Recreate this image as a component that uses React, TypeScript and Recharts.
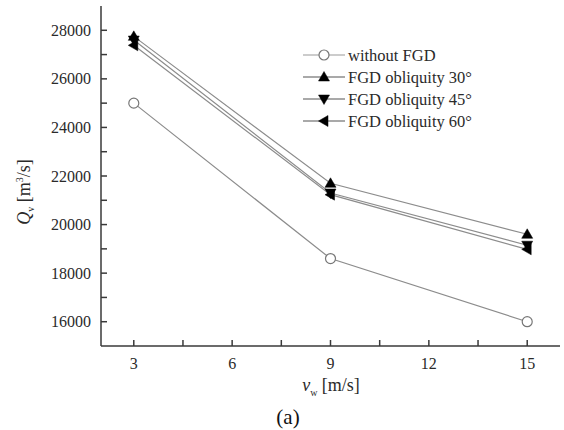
import React from 'react';
import { LineChart, Line, XAxis, YAxis } from 'recharts';

const speeds = [3, 9, 15];
const withoutFGD = [25000, 18600, 16000];
const obliquity30 = [27750, 21700, 19600];
const obliquity45 = [27600, 21300, 19150];
const obliquity60 = [27380, 21230, 18980];
const yTicks = [16000, 17000, 18000, 19000, 20000, 21000, 22000, 23000, 24000, 25000, 26000, 27000, 28000];
const yLabeled = [16000, 18000, 20000, 22000, 24000, 26000, 28000];
const xTicks = [3, 4.5, 6, 7.5, 9, 10.5, 12, 13.5, 15];
const xLabeled = [3, 6, 9, 12, 15];
const seriesNames = ['without FGD', 'FGD obliquity 30°', 'FGD obliquity 45°', 'FGD obliquity 60°'];

const data = speeds.map((s, i) => ({
  v: s,
  a: withoutFGD[i],
  b: obliquity30[i],
  c: obliquity45[i],
  d: obliquity60[i],
}));

const FONT = '"Liberation Serif", "Times New Roman", serif';
const LINE = '#8c8c8c';
const AXIS = '#3a3a3a';
const TXT = '#2a2a2a';

function marker(kind: string, cx: number, cy: number, key?: string) {
  if (kind === 'circle') {
    return <circle key={key} cx={cx} cy={cy} r={5} fill="#fff" stroke="#777" strokeWidth={1.2} />;
  }
  let d = '';
  if (kind === 'up') d = `M${cx},${cy - 5.5} L${cx + 5.5},${cy + 4} L${cx - 5.5},${cy + 4} Z`;
  if (kind === 'down') d = `M${cx},${cy + 5.5} L${cx + 5.5},${cy - 4} L${cx - 5.5},${cy - 4} Z`;
  if (kind === 'left') d = `M${cx - 5.5},${cy} L${cx + 4},${cy - 5.5} L${cx + 4},${cy + 5.5} Z`;
  return <path key={key} d={d} fill="#000" stroke="#000" strokeWidth={0.5} />;
}

const kinds = ['circle', 'up', 'down', 'left'];

const makeDot = (kind: string) => (props: any) =>
  marker(kind, props.cx, props.cy, `${kind}-${props.index}`);

const YTick = (props: any) => {
  const v = props.payload.value;
  if (!yLabeled.includes(v)) return <g />;
  return (
    <text x={91} y={props.y} dy={5.5} textAnchor="end" fontFamily={FONT} fontSize={16} fill={TXT}>
      {v}
    </text>
  );
};

const XTick = (props: any) => {
  const v = props.payload.value;
  if (!xLabeled.includes(v)) return <g />;
  return (
    <text x={props.x} y={369} textAnchor="middle" fontFamily={FONT} fontSize={16} fill={TXT}>
      {v}
    </text>
  );
};

export default function App() {
  return (
    <div style={{ position: 'absolute', left: 0, top: 0, width: 564, height: 430, background: '#fff' }}>
      <LineChart width={564} height={430} data={data} margin={{ top: 6, right: 4, bottom: 54, left: 0 }}>
        <XAxis
          dataKey="v"
          type="number"
          domain={[2, 16]}
          ticks={xTicks}
          height={30}
          tick={<XTick />}
          tickSize={-6}
          axisLine={{ stroke: AXIS, strokeWidth: 1.5 }}
          tickLine={{ stroke: AXIS, strokeWidth: 1.5 }}
          interval={0}
        />
        <YAxis
          type="number"
          domain={[15000, 29000]}
          ticks={yTicks}
          width={101}
          tick={<YTick />}
          tickSize={-6}
          axisLine={{ stroke: AXIS, strokeWidth: 1.5 }}
          tickLine={{ stroke: AXIS, strokeWidth: 1.5 }}
          interval={0}
        />
        {['a', 'b', 'c', 'd'].map((k, i) => (
          <Line
            key={k}
            dataKey={k}
            name={seriesNames[i]}
            stroke={LINE}
            strokeWidth={1.2}
            dot={makeDot(kinds[i])}
            isAnimationActive={false}
          />
        ))}
      </LineChart>
      <svg width={564} height={430} style={{ position: 'absolute', left: 0, top: 0, pointerEvents: 'none' }}>
        {seriesNames.map((n, i) => {
          const y = 55 + i * 22;
          return (
            <g key={n}>
              <line x1={303} x2={345} y1={y} y2={y} stroke={i === 0 ? '#999' : '#555'} strokeWidth={1.2} />
              {marker(kinds[i], 324, y)}
              <text x={348} y={y + 5.5} fontFamily={FONT} fontSize={16.5} fill={TXT}>
                {n}
              </text>
            </g>
          );
        })}
        <text
          transform="translate(30,192) rotate(-90)"
          textAnchor="middle"
          fontFamily={FONT}
          fontSize={18}
          fill={TXT}
        >
          <tspan fontStyle="italic">Q</tspan>
          <tspan fontSize={10} dy={4}>v</tspan>
          <tspan dy={-4}>{'  [m'}</tspan>
          <tspan fontSize={10} dy={-7}>3</tspan>
          <tspan dy={7}>/s]</tspan>
        </text>
        <text x={331} y={391} textAnchor="middle" fontFamily={FONT} fontSize={18} fill={TXT}>
          <tspan fontStyle="italic">v</tspan>
          <tspan fontSize={10} dy={5}>w</tspan>
          <tspan dy={-5}>{'  [m/s]'}</tspan>
        </text>
        <text x={288} y={424} textAnchor="middle" fontFamily={FONT} fontSize={21} fill="#111">
          (a)
        </text>
      </svg>
    </div>
  );
}
